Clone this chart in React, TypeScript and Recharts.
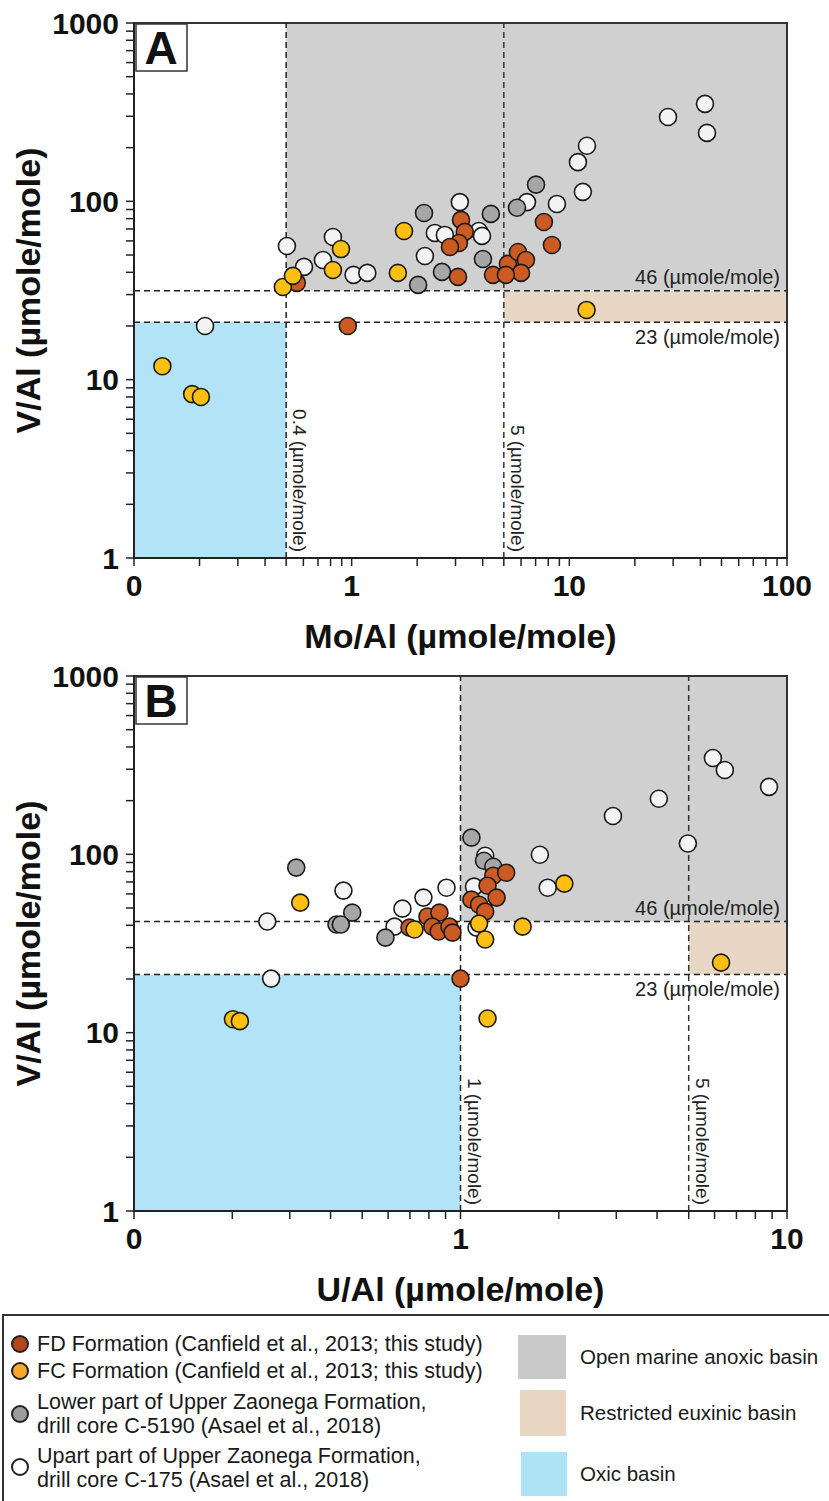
import React from 'react'
import { ScatterChart, Scatter, XAxis, YAxis, ReferenceArea, ReferenceLine } from 'recharts'

const FONT = '"Liberation Sans", Arial, Helvetica, sans-serif'

// ─── tick positions (log axes, minor ticks included) ──────────────────
const V_TICKS = [1, 2, 3, 4, 5, 6, 7, 8, 9, 10, 20, 30, 40, 50, 60, 70, 80, 90, 100, 200, 300, 400, 500, 600, 700, 800, 900, 1000]
const V_LABELS = [1, 10, 100, 1000]
const MO_TICKS = [0.1, 0.2, 0.3, 0.4, 0.5, 0.6, 0.7, 0.8, 0.9, 1, 2, 3, 4, 5, 6, 7, 8, 9, 10, 20, 30, 40, 50, 60, 70, 80, 90, 100]
const MO_LABELS = [0.1, 1, 10, 100]
const U_TICKS = [0.1, 0.2, 0.3, 0.4, 0.5, 0.6, 0.7, 0.8, 0.9, 1, 2, 3, 4, 5, 6, 7, 8, 9, 10]
const U_LABELS = [0.1, 1, 10]

// ─── Panel A: Mo/Al vs V/Al ───────────────────────────────────────────
const A_FD = [
  { x: 0.96, y: 20.0 }, { x: 0.56, y: 34.9 }, { x: 3.18, y: 78.7 }, { x: 3.31, y: 67.4 },
  { x: 3.11, y: 58.4 }, { x: 2.83, y: 55.5 }, { x: 3.08, y: 37.7 }, { x: 4.46, y: 38.7 },
  { x: 5.22, y: 44.6 }, { x: 5.81, y: 52 }, { x: 6.32, y: 46.9 }, { x: 6.0, y: 39.7 },
  { x: 5.11, y: 38.7 }, { x: 7.64, y: 76.6 }, { x: 8.32, y: 56.9 },
]
const A_FC = [
  { x: 0.135, y: 11.9 }, { x: 0.185, y: 8.3 }, { x: 0.203, y: 8.0 }, { x: 0.483, y: 33.1 },
  { x: 0.537, y: 38.2 }, { x: 0.82, y: 41.2 }, { x: 0.893, y: 54 }, { x: 1.63, y: 39.7 },
  { x: 1.74, y: 68.2 }, { x: 12.0, y: 24.6 },
]
const A_C5190 = [
  { x: 2.15, y: 86 }, { x: 4.36, y: 85 }, { x: 7.03, y: 124 }, { x: 5.75, y: 92 },
  { x: 4.01, y: 47.5 }, { x: 2.6, y: 40.2 }, { x: 2.02, y: 34 },
]
const A_C175 = [
  { x: 0.212, y: 20 }, { x: 0.504, y: 56.2 }, { x: 0.82, y: 63.1 }, { x: 0.738, y: 46.9 },
  { x: 0.604, y: 42.9 }, { x: 1.02, y: 38.7 }, { x: 1.18, y: 39.7 }, { x: 2.17, y: 49.4 },
  { x: 2.41, y: 66.5 }, { x: 2.68, y: 64.8 }, { x: 3.14, y: 99 }, { x: 3.84, y: 68.2 },
  { x: 3.97, y: 64 }, { x: 6.39, y: 99 }, { x: 8.77, y: 96.7 }, { x: 12.05, y: 205 },
  { x: 10.95, y: 166 }, { x: 11.54, y: 113 }, { x: 28.4, y: 297 }, { x: 42, y: 352 },
  { x: 42.9, y: 242 },
]

// ─── Panel B: U/Al vs V/Al ────────────────────────────────────────────
const B_FD = [
  { x: 0.698, y: 38.8 }, { x: 0.792, y: 44.8 }, { x: 0.862, y: 47.1 }, { x: 0.82, y: 39.3 },
  { x: 0.857, y: 36.9 }, { x: 0.925, y: 39.3 }, { x: 0.945, y: 36.4 }, { x: 1.0, y: 20.1 },
  { x: 1.26, y: 75.9 }, { x: 1.38, y: 78.9 }, { x: 1.21, y: 66.7 }, { x: 1.29, y: 57.2 },
  { x: 1.08, y: 55.7 }, { x: 1.14, y: 52.2 }, { x: 1.19, y: 47.7 },
]
const B_FC = [
  { x: 0.201, y: 11.9 }, { x: 0.211, y: 11.6 }, { x: 0.323, y: 53.6 }, { x: 0.723, y: 37.9 },
  { x: 1.14, y: 40.9 }, { x: 1.19, y: 33.3 }, { x: 1.55, y: 39.3 }, { x: 2.08, y: 68.5 },
  { x: 6.28, y: 24.7 }, { x: 1.21, y: 12.0 },
]
const B_C5190 = [
  { x: 0.314, y: 84.2 }, { x: 0.466, y: 47.1 }, { x: 0.417, y: 40.4 }, { x: 0.43, y: 40.4 },
  { x: 0.589, y: 34.1 }, { x: 1.08, y: 124 }, { x: 1.18, y: 92.1 }, { x: 1.26, y: 85.2 },
]
const B_C175 = [
  { x: 0.256, y: 42 }, { x: 0.263, y: 20.1 }, { x: 0.438, y: 62.6 }, { x: 0.664, y: 49.6 },
  { x: 0.77, y: 57.2 }, { x: 0.906, y: 65 }, { x: 0.628, y: 39.3 }, { x: 1.19, y: 98.2 },
  { x: 1.1, y: 65.9 }, { x: 1.12, y: 38.8 }, { x: 1.75, y: 99.5 }, { x: 1.85, y: 65 },
  { x: 2.93, y: 164 }, { x: 4.05, y: 205 }, { x: 4.97, y: 115 }, { x: 5.93, y: 347 },
  { x: 6.45, y: 297 }, { x: 8.81, y: 239 },
]

// threshold lines (where they sit on the plot)
const A_MO_LOW = 0.5
const A_MO_HIGH = 5
const A_V_HIGH = 31.5
const A_V_LOW = 21
const B_U_LOW = 1
const B_U_HIGH = 5
const B_V_HIGH = 42
const B_V_LOW = 21.2

const C_FD = '#cc5a23'
const C_FC = '#fdbf12'
const C_GRAY = '#a6a6a6'
const C_WHITE = '#f4f4f4'
const REG_ANOXIC = '#d0d0d0'
const REG_EUXINIC = '#e7d7c4'
const REG_OXIC = '#b2e3f6'

const dot = (fill: string) => (props: any) => (
  <circle cx={props.cx} cy={props.cy} r={8.5} fill={fill} stroke="#1a1a1a" strokeWidth={1.6} />
)

const fmt = (labels: number[]) => (v: number) =>
  labels.includes(v) ? (v === 0.1 ? '0' : String(v)) : ''

function PanelTag({ viewBox, letter }: any) {
  const { x, y } = viewBox
  return (
    <g>
      <rect x={x + 2} y={y + 1} width={51} height={47} fill="#fff" stroke="#333" strokeWidth={1.5} />
      <text x={x + 27} y={y + 41} textAnchor="middle" fontSize={46} fontWeight={700} fontFamily={FONT} fill="#111">
        {letter}
      </text>
    </g>
  )
}

function VLabel({ viewBox, text }: any) {
  const x = viewBox.x + 7
  const y = viewBox.y + viewBox.height - 6
  return (
    <text x={x} y={y} transform={`rotate(90 ${x} ${y})`} textAnchor="end" fontSize={19} fontFamily={FONT} fill="#222">
      {text}
    </text>
  )
}

function HLabel({ viewBox, text, above }: any) {
  const x = viewBox.x + viewBox.width - 7
  const y = above ? viewBox.y - 7 : viewBox.y + 22
  return (
    <text x={x} y={y} textAnchor="end" fontSize={20} fontFamily={FONT} fill="#222">
      {text}
    </text>
  )
}

function XTitle({ viewBox, text }: any) {
  return (
    <text x={viewBox.x + viewBox.width / 2} y={viewBox.y + 90} textAnchor="middle" fontSize={34} fontWeight={700} fontFamily={FONT} fill="#111">
      {text}
    </text>
  )
}

function YTitle({ viewBox, text }: any) {
  const cx = 28
  const cy = viewBox.y + viewBox.height / 2
  return (
    <text x={cx} y={cy} transform={`rotate(-90 ${cx} ${cy})`} textAnchor="middle" dominantBaseline="central" fontSize={34} fontWeight={700} fontFamily={FONT} fill="#111">
      {text}
    </text>
  )
}

const axisProps = {
  axisLine: { stroke: '#222', strokeWidth: 2 },
  tickLine: { stroke: '#222', strokeWidth: 1.5 },
  tickSize: 8,
  interval: 0 as const,
  allowDataOverflow: true,
  tick: { fontSize: 30, fontWeight: 700, fill: '#111', fontFamily: FONT },
}

type PanelCfg = {
  tag: string
  xTicks: number[]
  xLabels: number[]
  xMax: number
  xTitle: string
  fd: any[]; fc: any[]; c5190: any[]; c175: any[]
  xLow: number; xHigh: number; vHigh: number; vLow: number
  xLowText: string; xHighText: string
}

function renderPanel(c: PanelCfg) {
  return (
    <ScatterChart width={829} height={655} margin={{ top: 23, right: 42, bottom: 0, left: 0 }}>
      <XAxis
        type="number" dataKey="x" scale="log" domain={[0.1, c.xMax]} ticks={c.xTicks}
        tickFormatter={fmt(c.xLabels)} tickMargin={9} height={97}
        label={<XTitle text={c.xTitle} />}
        {...axisProps}
      />
      <YAxis
        type="number" dataKey="y" scale="log" domain={[1, 1000]} ticks={V_TICKS}
        tickFormatter={fmt(V_LABELS)} tickMargin={7} width={134}
        label={<YTitle text="V/Al (µmole/mole)" />}
        {...axisProps}
      />
      {/* environment fields */}
      <ReferenceArea x1={c.xLow} x2={c.xMax} y1={c.vHigh} y2={1000} fill={REG_ANOXIC} fillOpacity={1} stroke="none" />
      <ReferenceArea x1={c.xHigh} x2={c.xMax} y1={c.vLow} y2={c.vHigh} fill={REG_EUXINIC} fillOpacity={1} stroke="none" />
      <ReferenceArea x1={0.1} x2={c.xLow} y1={1} y2={c.vLow} fill={REG_OXIC} fillOpacity={1} stroke="none" />

      <ReferenceLine y={c.vHigh} stroke="#222" strokeWidth={1.5} strokeDasharray="6 4" label={<HLabel text="46 (µmole/mole)" above />} />
      <ReferenceLine y={c.vLow} stroke="#222" strokeWidth={1.5} strokeDasharray="6 4" label={<HLabel text="23 (µmole/mole)" />} />
      <ReferenceLine x={c.xLow} stroke="#222" strokeWidth={1.5} strokeDasharray="6 4" label={<VLabel text={c.xLowText} />} />
      <ReferenceLine x={c.xHigh} stroke="#333" strokeWidth={1.5} strokeDasharray="6 4" label={<VLabel text={c.xHighText} />} />

      <Scatter data={c.c175} shape={dot(C_WHITE)} isAnimationActive={false} />
      <Scatter data={c.c5190} shape={dot(C_GRAY)} isAnimationActive={false} />
      <Scatter data={c.fd} shape={dot(C_FD)} isAnimationActive={false} />
      <Scatter data={c.fc} shape={dot(C_FC)} isAnimationActive={false} />

      {/* frame + panel letter */}
      <ReferenceArea x1={0.1} x2={c.xMax} y1={1} y2={1000} fill="none" stroke="#333" strokeWidth={2} label={<PanelTag letter={c.tag} />} />
    </ScatterChart>
  )
}

const legendText: React.CSSProperties = {
  position: 'absolute', fontFamily: FONT, fontSize: 21.5, color: '#1a1a1a', lineHeight: '24px', whiteSpace: 'nowrap',
}
const legendTextR: React.CSSProperties = { ...legendText, fontSize: 20.5 }

function LegendCircle({ top, color }: { top: number; color: string }) {
  return (
    <div style={{
      position: 'absolute', left: 7, top, width: 14, height: 14, borderRadius: '50%',
      background: color, border: '2px solid #222',
    }} />
  )
}

function Legend() {
  return (
    <div style={{
      position: 'absolute', left: 2, top: 1314, width: 860, height: 220,
      border: '2px solid #333', boxSizing: 'border-box', background: '#fff',
    }}>
      <LegendCircle top={19} color="#b5461c" />
      <div style={{ ...legendText, left: 33, top: 16 }}>FD Formation (Canfield et al., 2013; this study)</div>
      <LegendCircle top={46} color="#f5a82a" />
      <div style={{ ...legendText, left: 33, top: 43 }}>FC Formation (Canfield et al., 2013; this study)</div>
      <LegendCircle top={89} color="#9c9c9c" />
      <div style={{ ...legendText, left: 33, top: 74 }}>Lower part of Upper Zaonega Formation,</div>
      <div style={{ ...legendText, left: 33, top: 98 }}>drill core C-5190 (Asael et al., 2018)</div>
      <LegendCircle top={142} color="#ffffff" />
      <div style={{ ...legendText, left: 33, top: 128 }}>Upart part of Upper Zaonega Formation,</div>
      <div style={{ ...legendText, left: 33, top: 152 }}>drill core C-175 (Asael et al., 2018)</div>

      <div style={{ position: 'absolute', left: 514, top: 19, width: 48, height: 44, background: '#c9c9c9' }} />
      <div style={{ ...legendTextR, left: 576, top: 29 }}>Open marine anoxic basin</div>
      <div style={{ position: 'absolute', left: 516, top: 74, width: 46, height: 46, background: '#e8d6c2' }} />
      <div style={{ ...legendTextR, left: 576, top: 85 }}>Restricted euxinic basin</div>
      <div style={{ position: 'absolute', left: 517, top: 136, width: 46, height: 44, background: '#aee3f5' }} />
      <div style={{ ...legendTextR, left: 576, top: 146 }}>Oxic basin</div>
    </div>
  )
}

export default function App() {
  return (
    <div style={{ position: 'absolute', left: 0, top: 0, width: 829, height: 1501, background: '#fff', overflow: 'hidden' }}>
      <div style={{ position: 'absolute', left: 0, top: 0 }}>
        {renderPanel({
          tag: 'A', xTicks: MO_TICKS, xLabels: MO_LABELS, xMax: 100, xTitle: 'Mo/Al (µmole/mole)',
          fd: A_FD, fc: A_FC, c5190: A_C5190, c175: A_C175,
          xLow: A_MO_LOW, xHigh: A_MO_HIGH, vHigh: A_V_HIGH, vLow: A_V_LOW,
          xLowText: '0.4 (µmole/mole)', xHighText: '5 (µmole/mole)',
        })}
      </div>
      <div style={{ position: 'absolute', left: 0, top: 653 }}>
        {renderPanel({
          tag: 'B', xTicks: U_TICKS, xLabels: U_LABELS, xMax: 10, xTitle: 'U/Al (µmole/mole)',
          fd: B_FD, fc: B_FC, c5190: B_C5190, c175: B_C175,
          xLow: B_U_LOW, xHigh: B_U_HIGH, vHigh: B_V_HIGH, vLow: B_V_LOW,
          xLowText: '1 (µmole/mole)', xHighText: '5 (µmole/mole)',
        })}
      </div>
      <Legend />
    </div>
  )
}
